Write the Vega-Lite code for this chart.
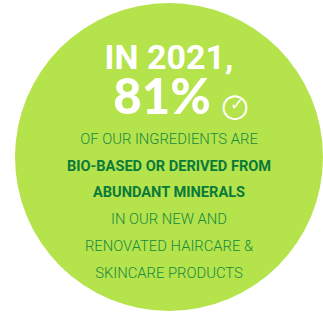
{
  "$schema": "https://vega.github.io/schema/vega-lite/v6.json",
  "width": 323,
  "height": 314,
  "autosize": {"type": "fit", "contains": "padding"},
  "padding": {"left": 15, "right": 0, "top": 0, "bottom": 0},
  "background": "white",
  "config": {"view": {"stroke": null}},
  "datasets": {
    "lines": [
      {"text": "IN 2021,", "role": "heading", "line": 1},
      {"text": "81%", "role": "stat", "line": 2},
      {"text": "OF OUR INGREDIENTS ARE", "role": "body", "line": 3},
      {"text": "BIO-BASED OR DERIVED FROM", "role": "emphasis", "line": 4},
      {"text": "ABUNDANT MINERALS", "role": "emphasis", "line": 5},
      {"text": "IN OUR NEW AND", "role": "body", "line": 6},
      {"text": "RENOVATED HAIRCARE &", "role": "body", "line": 7},
      {"text": "SKINCARE PRODUCTS", "role": "body", "line": 8}
    ],
    "icon": [
      {"glyph": "○", "part": "ring", "line": 2},
      {"glyph": "✓", "part": "tick", "line": 2}
    ]
  },
  "layer": [
    {
      "data": {"values": [{"share": 100}]},
      "mark": {"type": "arc", "outerRadius": 154, "color": "#B5E34B"},
      "encoding": {"theta": {"field": "share", "type": "quantitative"}}
    },
    {
      "data": {"name": "lines"},
      "transform": [{"filter": "datum.role === 'heading'"}],
      "mark": {"type": "text", "font": "Roboto", "fontWeight": "bold", "fontSize": 34, "color": "white", "dy": -21.6, "baseline": "alphabetic"},
      "encoding": {
        "y": {"field": "line", "type": "quantitative", "scale": {"domain": [-2.395, 9.365], "reverse": true}, "axis": null},
        "text": {"field": "text"}
      }
    },
    {
      "data": {"name": "lines"},
      "transform": [{"filter": "datum.role === 'stat'"}],
      "mark": {"type": "text", "font": "Lato", "fontWeight": 900, "fontSize": 49, "color": "white", "dy": -3.3, "dx": -7, "baseline": "alphabetic"},
      "encoding": {
        "y": {"field": "line", "type": "quantitative", "scale": {"domain": [-2.395, 9.365], "reverse": true}, "axis": null},
        "text": {"field": "text"}
      }
    },
    {
      "data": {"name": "lines"},
      "transform": [{"filter": "datum.role === 'body'"}],
      "mark": {"type": "text", "font": "Roboto", "fontWeight": 300, "fontSize": 14.8, "color": "#168A3F", "baseline": "alphabetic"},
      "encoding": {
        "y": {"field": "line", "type": "quantitative", "scale": {"domain": [-2.395, 9.365], "reverse": true}, "axis": null},
        "text": {"field": "text"}
      }
    },
    {
      "data": {"name": "lines"},
      "transform": [{"filter": "datum.role === 'emphasis'"}],
      "mark": {"type": "text", "font": "Roboto", "fontWeight": "bold", "fontSize": 14.6, "color": "#0A7A3A", "baseline": "alphabetic"},
      "encoding": {
        "y": {"field": "line", "type": "quantitative", "scale": {"domain": [-2.395, 9.365], "reverse": true}, "axis": null},
        "text": {"field": "text"}
      }
    },
    {
      "data": {"name": "icon"},
      "transform": [{"filter": "datum.part === 'ring'"}],
      "mark": {"type": "text", "font": "DejaVu Sans", "fontSize": 32, "color": "white", "dx": 66, "dy": -11.3, "baseline": "middle"},
      "encoding": {
        "y": {"field": "line", "type": "quantitative", "scale": {"domain": [-2.395, 9.365], "reverse": true}, "axis": null},
        "text": {"field": "glyph"}
      }
    },
    {
      "data": {"name": "icon"},
      "transform": [{"filter": "datum.part === 'tick'"}],
      "mark": {"type": "text", "font": "DejaVu Sans", "fontSize": 17, "color": "white", "dx": 68, "dy": -12, "baseline": "middle"},
      "encoding": {
        "y": {"field": "line", "type": "quantitative", "scale": {"domain": [-2.395, 9.365], "reverse": true}, "axis": null},
        "text": {"field": "glyph"}
      }
    }
  ]
}
